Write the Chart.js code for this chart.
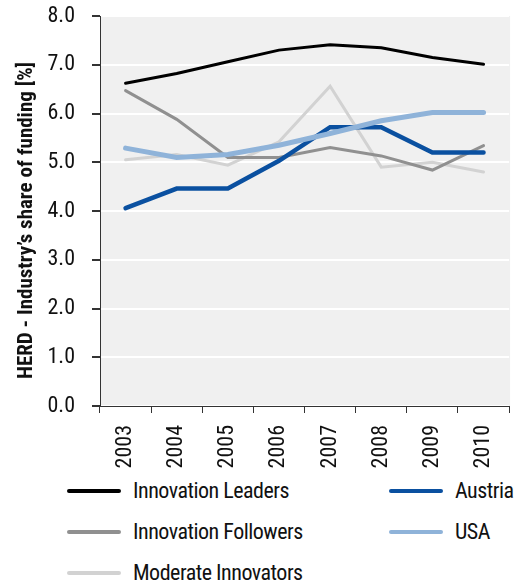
<!DOCTYPE html>
<html>
<head>
<meta charset="utf-8">
<script src="https://cdn.jsdelivr.net/npm/chart.js@4.4.1/dist/chart.umd.min.js"></script>
<style>
  html, body { margin: 0; padding: 0; background: #fff; }
  body { width: 522px; height: 587px; position: relative; overflow: hidden;
         font-family: Roboto, sans-serif; font-stretch: 75%; color: #111; }
  #wrap { position: absolute; left: 0; top: 0; width: 522px; height: 470px; }
  #legend { position: absolute; left: 67px; top: 470px; display: grid;
            grid-template-columns: 322px auto; grid-template-rows: repeat(3, 41px);
            grid-auto-flow: column; }
  .item { display: flex; align-items: center; font-size: 22px; letter-spacing: -0.5px; white-space: nowrap; }
  .swatch { width: 54px; height: 4px; border-radius: 2px; margin-right: 12px; }
</style>
</head>
<body>
<div id="wrap"><canvas id="chart" width="522" height="470"></canvas></div>
<div id="legend"></div>
<script>
const years = ['2003', '2004', '2005', '2006', '2007', '2008', '2009', '2010'];

const leaders   = [6.62, 6.82, 7.06, 7.30, 7.41, 7.35, 7.15, 7.01];
const followers = [6.47, 5.88, 5.10, 5.10, 5.30, 5.13, 4.84, 5.34];
const moderate  = [5.05, 5.16, 4.94, 5.42, 6.56, 4.90, 5.00, 4.80];
const austria   = [4.06, 4.46, 4.46, 5.03, 5.72, 5.72, 5.20, 5.20];
const usa       = [5.29, 5.10, 5.16, 5.35, 5.59, 5.85, 6.02, 6.02];

const yTicks = [0, 1, 2, 3, 4, 5, 6, 7, 8];

// condensed Roboto: stretch goes in with the weight so it ends up in the canvas font string
const fontFamily = 'Roboto, sans-serif';

// legend order: left column first, then right column
const series = [
    { label: 'Innovation Leaders',   data: leaders,   color: '#000000', width: 3,   order: 2 },
    { label: 'Innovation Followers', data: followers, color: '#909090', width: 3,   order: 3 },
    { label: 'Moderate Innovators',  data: moderate,  color: '#d2d2d2', width: 3,   order: 4 },
    { label: 'Austria',              data: austria,   color: '#0a50a0', width: 4.5, order: 1 },
    { label: 'USA',                  data: usa,       color: '#8fb3d9', width: 5,   order: 0 }
];

const plotBackground = {
    id: 'plotBackground',
    beforeDraw: function (chart) {
        const a = chart.chartArea;
        const ctx = chart.ctx;
        ctx.save();
        ctx.fillStyle = '#f0f0f0';
        ctx.fillRect(a.left, a.top, a.right - a.left + 1, a.bottom - a.top);
        ctx.restore();
    }
};

new Chart(document.getElementById('chart'), {
    type: 'line',
    data: {
        labels: years,
        datasets: series.map(function (s) {
            return {
                label: s.label,
                data: s.data,
                borderColor: s.color,
                backgroundColor: s.color,
                borderWidth: s.width,
                borderCapStyle: 'round',
                borderJoinStyle: 'miter',
                pointRadius: 0,
                tension: 0,
                order: s.order
            };
        })
    },
    options: {
        responsive: false,
        animation: false,
        layout: { padding: { top: 16, right: 1, left: 0, bottom: 0 } },
        plugins: {
            legend: { display: false },
            tooltip: { enabled: false }
        },
        scales: {
            x: {
                offset: true,
                afterFit: function (scale) { scale.height = 64; },
                grid: {
                    offset: true,
                    drawOnChartArea: false,
                    tickLength: 7,
                    tickColor: '#333'
                },
                border: { color: '#333', width: 1 },
                ticks: {
                    autoSkip: false,
                    minRotation: 90,
                    maxRotation: 90,
                    padding: 12,
                    color: '#111',
                    font: { family: fontFamily, size: 22, weight: 'condensed' }
                }
            },
            y: {
                min: 0,
                max: 8,
                afterFit: function (scale) {
                    scale.width = 100;
                    // tick padding would otherwise push the plot top down
                    scale.paddingTop = 12;
                    scale.paddingBottom = 12;
                },
                afterBuildTicks: function (scale) {
                    scale.ticks = yTicks.map(function (v) { return { value: v }; });
                },
                grid: {
                    color: '#ffffff',
                    lineWidth: 2,
                    tickLength: 8,
                    tickColor: '#333'
                },
                border: { color: '#333', width: 1 },
                ticks: {
                    padding: 17,
                    color: '#111',
                    font: { family: fontFamily, size: 22, weight: 'condensed' },
                    callback: function (v) { return Number(v).toFixed(1); }
                },
                title: {
                    display: true,
                    // trailing en spaces nudge the centred title a little lower, as in the original
                    text: 'HERD - Industry\u2019s share of funding [%]\u2002\u2002',
                    color: '#111',
                    padding: { top: 14, bottom: 0 },
                    font: { family: fontFamily, size: 21, weight: 'bold condensed' }
                }
            }
        }
    },
    plugins: [plotBackground]
});

const legend = document.getElementById('legend');
series.forEach(function (s) {
    const item = document.createElement('div');
    item.className = 'item';
    const sw = document.createElement('span');
    sw.className = 'swatch';
    sw.style.background = s.color;
    item.appendChild(sw);
    item.appendChild(document.createTextNode(s.label));
    legend.appendChild(item);
});
</script>
</body>
</html>
